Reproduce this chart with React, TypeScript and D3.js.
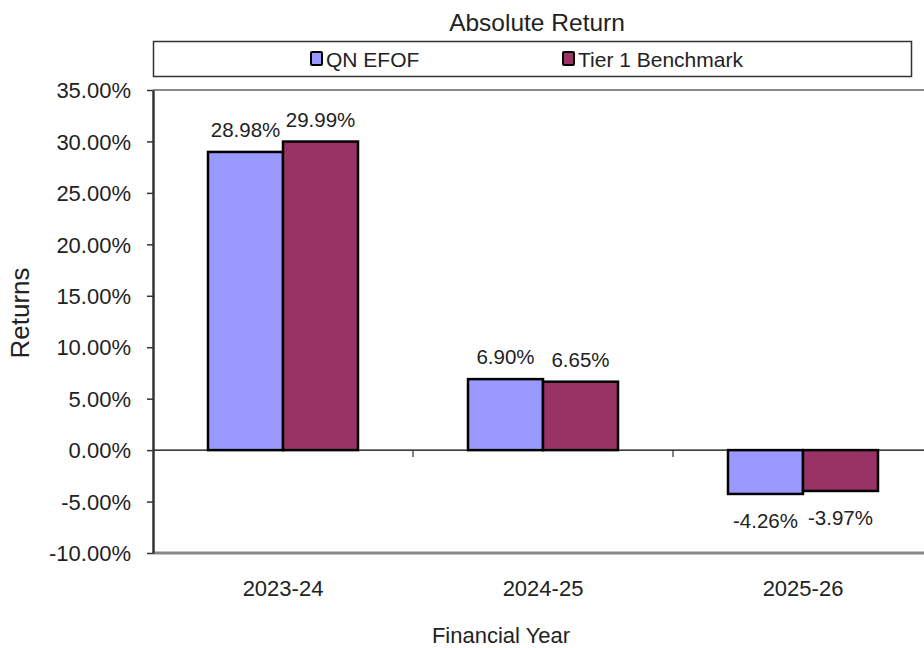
import * as d3 from "d3";
import { useEffect, useRef } from "react";

const categories = ["2023-24", "2024-25", "2025-26"];
const seriesNames = ["QN EFOF", "Tier 1 Benchmark"];
const qnEfof = [28.98, 6.9, -4.26];
const tier1 = [29.99, 6.65, -3.97];
const yTicks = [-10, -5, 0, 5, 10, 15, 20, 25, 30, 35];
const colors = ["#9999ff", "#993366"];

const FONT = "'Liberation Sans', Arial, sans-serif";

const App = () => {
  const ref = useRef<SVGSVGElement>(null);

  useEffect(() => {
    const svg = d3.select(ref.current);
    svg.selectAll("*").remove();

    const left = 153, right = 933, top = 90, bottom = 553;
    const x = d3.scaleBand().domain(categories).range([left, right]);
    const inner = d3.scaleBand().domain(seriesNames).range([-75, 75]);
    const y = d3.scaleLinear().domain([-10, 35]).range([bottom, top]);

    // title
    svg.append("text").attr("x", 537).attr("y", 31).attr("text-anchor", "middle")
      .attr("font-size", 24.5).attr("font-family", FONT).attr("fill", "#222").text("Absolute Return");

    // legend
    svg.append("rect").attr("x", 153.5).attr("y", 41.5).attr("width", 758).attr("height", 35)
      .attr("fill", "white").attr("stroke", "#333").attr("stroke-width", 1.5);
    const legendX = [311, 563];
    seriesNames.forEach((s, i) => {
      svg.append("rect").attr("x", legendX[i]).attr("y", 52).attr("width", 11).attr("height", 13)
        .attr("fill", colors[i]).attr("stroke", "#000").attr("stroke-width", 2).attr("rx", 1);
      svg.append("text").attr("x", legendX[i] + 15).attr("y", 67).attr("font-size", 21)
        .attr("font-family", FONT).attr("fill", "#222").text(s);
    });

    // plot frame top
    svg.append("line").attr("x1", left).attr("x2", 924).attr("y1", top).attr("y2", top)
      .attr("stroke", "#888").attr("stroke-width", 2);

    // bars
    const data = [qnEfof, tier1];
    const g = svg.append("g");
    categories.forEach((c, ci) => {
      seriesNames.forEach((s, si) => {
        const v = data[si][ci];
        const bx = (x(c) as number) + x.bandwidth() / 2 + (inner(s) as number);
        g.append("rect").attr("x", bx).attr("y", y(Math.max(0, v)))
          .attr("width", inner.bandwidth()).attr("height", Math.abs(y(v) - y(0)))
          .attr("fill", colors[si]).attr("stroke", "#000").attr("stroke-width", 2.5);
        const lx = bx + inner.bandwidth() / 2;
        const ly = v >= 0 ? y(v) - 15 : y(v) + 34;
        g.append("text").attr("x", lx).attr("y", ly).attr("text-anchor", "middle")
          .attr("font-size", 20.5).attr("font-family", FONT).attr("fill", "#222")
          .text(v.toFixed(2) + "%");
      });
    });

    // zero line
    svg.append("line").attr("x1", left).attr("x2", 924).attr("y1", y(0)).attr("y2", y(0))
      .attr("stroke", "#000").attr("stroke-width", 1.2);
    // category ticks on zero line
    categories.slice(1).forEach((c) => {
      const tx = x(c) as number;
      svg.append("line").attr("x1", tx).attr("x2", tx).attr("y1", y(0)).attr("y2", y(0) + 7)
        .attr("stroke", "#333").attr("stroke-width", 1.2);
    });

    // bottom axis line
    svg.append("line").attr("x1", left).attr("x2", 924).attr("y1", bottom).attr("y2", bottom)
      .attr("stroke", "#888").attr("stroke-width", 3);

    // y axis
    const yAxis = svg.append("g").attr("transform", `translate(${left},0)`)
      .call(d3.axisLeft(y).tickValues(yTicks).tickSize(6).tickSizeOuter(0)
        .tickFormat((d) => (d as number).toFixed(2) + "%"));
    yAxis.select(".domain").attr("stroke", "#333").attr("stroke-width", 2.5);
    yAxis.selectAll(".tick line").attr("stroke", "#333").attr("stroke-width", 1.5);
    yAxis.selectAll(".tick text").attr("font-size", 22).attr("font-family", FONT)
      .attr("fill", "#222").attr("x", -22).attr("dy", "0.35em");

    // x labels
    categories.forEach((c) => {
      svg.append("text").attr("x", (x(c) as number) + x.bandwidth() / 2).attr("y", 596)
        .attr("text-anchor", "middle").attr("font-size", 22).attr("font-family", FONT)
        .attr("fill", "#222").text(c);
    });

    svg.append("text").attr("x", 501).attr("y", 643).attr("text-anchor", "middle")
      .attr("font-size", 22).attr("font-family", FONT).attr("fill", "#222").text("Financial Year");

    svg.append("text").attr("transform", "translate(29,313) rotate(-90)").attr("text-anchor", "middle")
      .attr("font-size", 26).attr("font-family", FONT).attr("fill", "#222").text("Returns");
  }, []);

  return (
    <svg ref={ref} width={924} height={648}
      style={{ position: "absolute", left: 0, top: 0, background: "white" }} />
  );
};

export default App;
